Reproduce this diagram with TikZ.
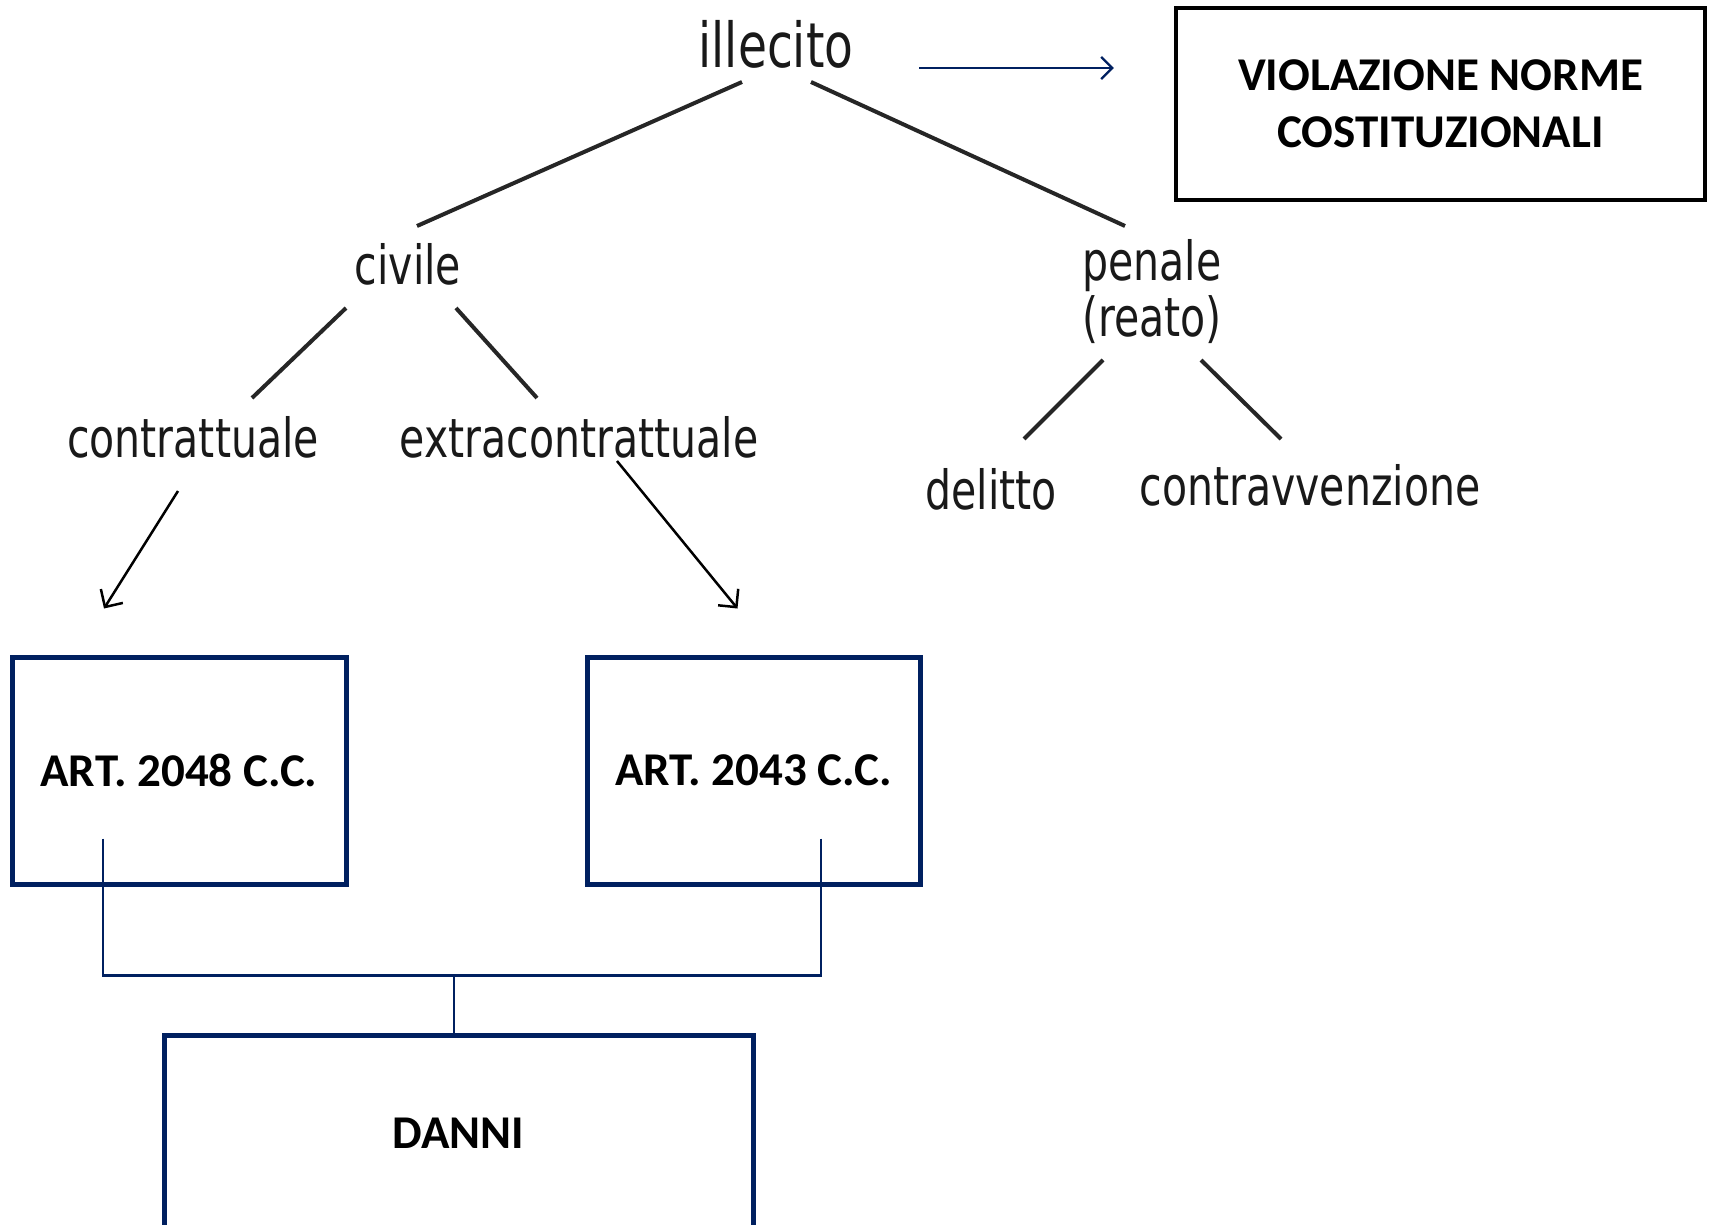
\documentclass[tikz,border=0pt]{standalone}
\usepackage{fontspec}
\setmainfont{DejaVu Sans}
\newfontfamily\treefont[FakeStretch=0.76]{DejaVu Sans}
\newfontfamily\boxfont{Carlito}
\usetikzlibrary{arrows.meta,calc}
\definecolor{navy}{RGB}{0,32,96}
\begin{document}
\begin{tikzpicture}[x=1pt,y=-1pt,
  tree/.style={font=\treefont\fontsize{54}{56}\selectfont, inner sep=0pt, align=center, text=black!90},
  branch/.style={line width=4pt, draw=black!85},
  arr/.style={line width=2.5pt, draw=black, -{Straight Barb[length=13pt,width=26pt,line width=2.5pt]}},
  navyarr/.style={line width=2.2pt, draw=navy, -{Straight Barb[length=11pt,width=22pt,line width=2.2pt]}},
  blackbox/.style={draw=black, line width=4.5pt, align=center, inner sep=0pt, font=\boxfont\bfseries\fontsize{47}{57}\selectfont},
  navybox/.style={draw=navy, line width=5pt, align=center, inner sep=0pt, font=\boxfont\bfseries\fontsize{47}{57}\selectfont},
  link/.style={draw=navy, line width=2.4pt}
]
\useasboundingbox (0,0) rectangle (1712,1225);
\clip (0,0) rectangle (1712,1225);
\fill[white] (0,0) rectangle (1712,1225);

% tree labels
\node[tree, font=\treefont\fontsize{62}{64}\selectfont] (ill) at (776,44) {illecito};
\node[tree] (civ) at (408,264) {civile};
\node[tree] (pen) at (1152,292) {penale\\(reato)};
\node[tree] (contr) at (193,437) {contrattuale};
\node[tree] (extra) at (579,437) {extracontrattuale};
\node[tree] (del) at (991,489) {delitto};
\node[tree] (contrav) at (1310,485) {contravvenzione};

% boxes
\node[blackbox, minimum width=529pt, minimum height=192pt] (viol) at (1440.5,104) {VIOLAZIONE NORME\\COSTITUZIONALI};
\node[navybox, minimum width=334pt, minimum height=227pt] (a48) at (179,770.5) {ART. 2048 C.C.};
\node[navybox, minimum width=333pt, minimum height=227pt] (a43) at (753.5,770.5) {ART. 2043 C.C.};
\node[navybox, minimum width=589pt, minimum height=196pt] (danni) at (458.5,1133) {DANNI};

% tree branches
\draw[branch] ($(ill)+(-34,38)$) -- ($(civ)+(9,-38)$);
\draw[branch] ($(ill)+(35,38)$) -- ($(pen)+(-27,-66)$);
\draw[branch] ($(civ)+(-62,44)$) -- ($(contr)+(59,-39)$);
\draw[branch] ($(civ)+(48,44)$) -- ($(extra)+(-42,-39)$);
\draw[branch] ($(pen)+(-49,68)$) -- ($(del)+(33,-50)$);
\draw[branch] ($(pen)+(49,68)$) -- ($(contrav)+(-29,-46)$);

% arrows
\draw[navyarr] ($(ill)+(143,24)$) -- ($(viol.west)+(-60,-36)$);
\draw[arr] ($(contr)+(-15,54)$) -- ($(a48.north)+(-75,-46)$);
\draw[arr] ($(extra)+(38,24)$) -- ($(a43.north)+(-16,-46)$);

% links to DANNI
\coordinate (j) at ($(danni.north)+(-4.5,-57)$);
\draw[link] ($(a48)+(-76,68)$) |- (j);
\draw[link] ($(a43)+(67.5,68)$) |- (j);
\draw[link] (j) -- ($(danni.north)+(-4.5,0)$);
\end{tikzpicture}
\end{document}
